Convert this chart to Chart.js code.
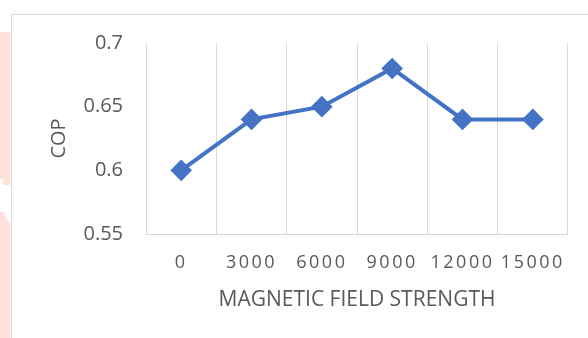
<!DOCTYPE html>
<html>
<head>
<meta charset="utf-8">
<script src="https://cdn.jsdelivr.net/npm/chart.js@4"></script>
<style>
  html, body { margin: 0; padding: 0; background: #fff; overflow: hidden; }
  #wrap { position: relative; width: 588px; height: 338px; overflow: hidden; }
  .tint { position: absolute; left: 0; width: 10px; background: #fde0d9; }
  #frame { position: absolute; left: 11px; top: 14px; width: 700px; height: 500px; border: 1px solid #d9d9d9; }
  #chartBox { position: absolute; left: 0; top: 0; width: 588px; height: 338px; }
</style>
</head>
<body>
<div id="wrap">
  <div class="tint" style="top:32px;height:153px;clip-path:polygon(0 0,100% 0,100% 100%,30% 100%,30% 96%,0 96%)"></div>
  <div class="tint" style="top:212px;height:126px;clip-path:polygon(0 0,30% 0,100% 10%,100% 100%,0 100%)"></div>
  <div id="frame"></div>
  <div id="chartBox"><canvas id="cop"></canvas></div>
</div>
<script>
// field strength steps and measured COP
const fieldLabels = ['0', '3000', '6000', '9000', '12000', '15000'];
const copValues = [0.60, 0.64, 0.65, 0.68, 0.64, 0.64];
const yTicks = [0.55, 0.6, 0.65, 0.7];

const blue = '#4472c4';
const textGray = '#595959';
const gridGray = '#d9d9d9';
const fontFamily = "'Open Sans', sans-serif";

const chart = new Chart(document.getElementById('cop'), {
  type: 'line',
  data: {
    labels: fieldLabels,
    datasets: [{
      data: copValues,
      borderColor: blue,
      backgroundColor: blue,
      borderWidth: 4,
      pointStyle: 'rectRot',
      pointRadius: 8,
      pointHoverRadius: 8,
      tension: 0
    }]
  },
  options: {
    responsive: true,
    maintainAspectRatio: false,
    animation: false,
    layout: { padding: { left: 11, top: 43, right: 20, bottom: 0 } },
    plugins: { legend: { display: false }, tooltip: { enabled: false } },
    scales: {
      x: {
        type: 'category',
        offset: true,
        grid: { color: gridGray, offset: true, drawTicks: false },
        border: { color: gridGray },
        ticks: {
          color: textGray,
          font: { family: fontFamily, size: 18 },
          padding: 18,
          maxRotation: 0,
          autoSkip: false
        },
        title: {
          display: true,
          text: 'MAGNETIC FIELD STRENGTH',
          color: textGray,
          font: { family: fontFamily, size: 21 },
          padding: { top: 0, bottom: 25 }
        },
        afterFit: (scale) => { scale.height = 104; }
      },
      y: {
        min: 0.55,
        max: 0.7,
        grid: { display: false, drawTicks: false },
        border: { display: false },
        afterBuildTicks: (scale) => { scale.ticks = yTicks.map(v => ({ value: v })); },
        ticks: {
          color: textGray,
          font: { family: fontFamily, size: 20 },
          padding: 23,
          callback: (v) => String(Math.round(v * 100) / 100)
        },
        title: {
          display: true,
          text: 'COP',
          color: textGray,
          font: { family: fontFamily, size: 20 },
          padding: { top: 36, bottom: 0 }
        },
        afterFit: (scale) => { scale.width = 135; }
      }
    }
  }
});

// spread the category labels out a little, like the original axis text
const xScale = chart.scales.x;
const drawXLabels = xScale.drawLabels;
xScale.drawLabels = function (area) {
  const ctx = this.ctx;
  ctx.save();
  ctx.letterSpacing = '2.5px';
  drawXLabels.call(this, area);
  ctx.restore();
};
chart.draw();
</script>
</body>
</html>
